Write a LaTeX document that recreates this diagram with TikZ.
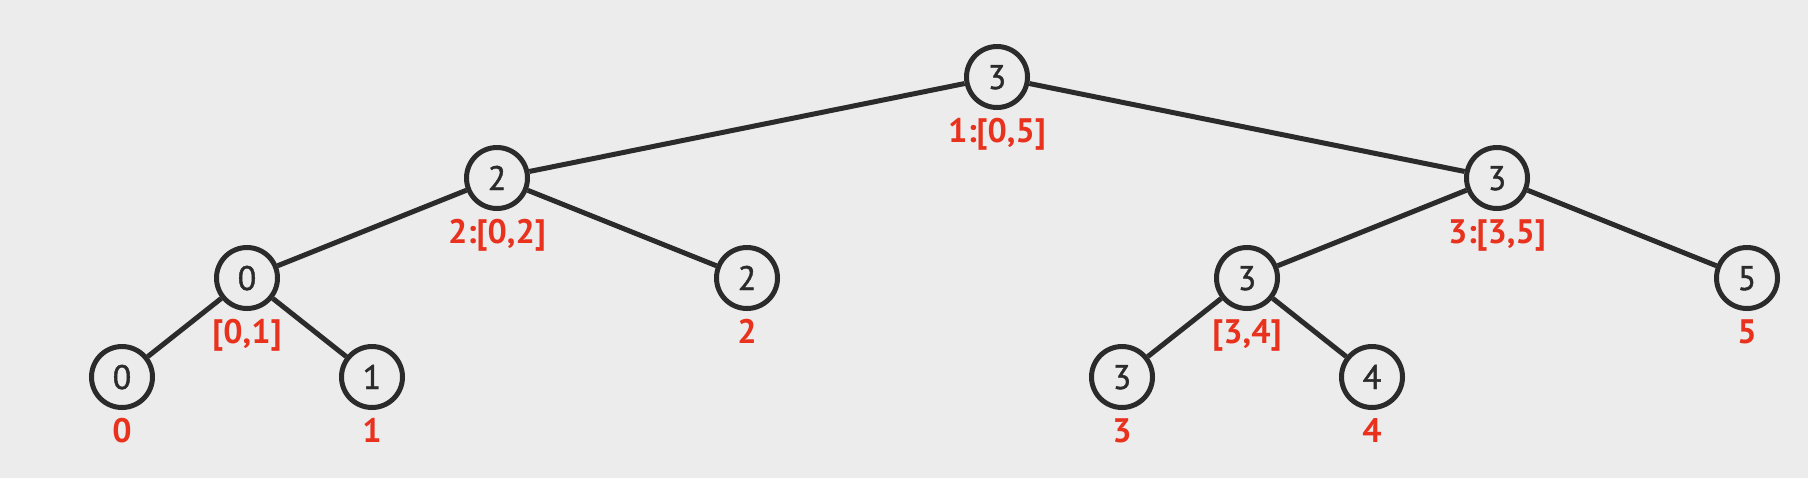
\documentclass[tikz,border=0pt]{standalone}
\usepackage{fontspec}
\setmainfont{PT Sans}
\newfontfamily\nodefont{PT Sans}[FakeBold=1.3]
\definecolor{bg}{HTML}{ECECEC}
\definecolor{ink}{HTML}{2B2B2B}
\definecolor{lab}{HTML}{E8321E}
\begin{document}
\begin{tikzpicture}[x=0.5pt,y=-0.5pt,
  tnode/.style={circle,draw=ink,line width=2.5pt,fill=bg,minimum size=30.5pt,inner sep=0pt},
  ttext/.style={anchor=base,text=ink,font=\nodefont\fontsize{17}{17}\selectfont,inner sep=0pt},
  tlab/.style={anchor=base,text=lab,font=\fontsize{17}{17}\selectfont\bfseries,inner sep=0pt},
  edge/.style={draw=ink,line width=2.5pt}]
\fill[bg] (0,0) rectangle (1808,478);
\useasboundingbox (0,0) rectangle (1808,478);
% nodes
\foreach \n/\x/\y/\t/\l in {
  r/997/77/3/{1:[0,5]},
  a/497/178/2/{2:[0,2]},
  b/1497/178/3/{3:[3,5]},
  c/247/278/0/{[0,1]},
  d/747/278/2/2,
  e/1247/278/3/{[3,4]},
  f/1747/278/5/5,
  g/122/377/0/0,
  h/372/377/1/1,
  i/1122/377/3/3,
  j/1372/377/4/4}{
  \node[tnode] (\n) at (\x,\y) {};
  \node[ttext] (\n t) at (\x,\y+12) {\t};
  \node[tlab] (\n l) at (\x,\y+65) {\l};
}
\draw[edge] (r) -- (a);
\draw[edge] (r) -- (b);
\draw[edge] (a) -- (c);
\draw[edge] (a) -- (d);
\draw[edge] (b) -- (e);
\draw[edge] (b) -- (f);
\draw[edge] (c) -- (g);
\draw[edge] (c) -- (h);
\draw[edge] (e) -- (i);
\draw[edge] (e) -- (j);
\end{tikzpicture}
\end{document}
